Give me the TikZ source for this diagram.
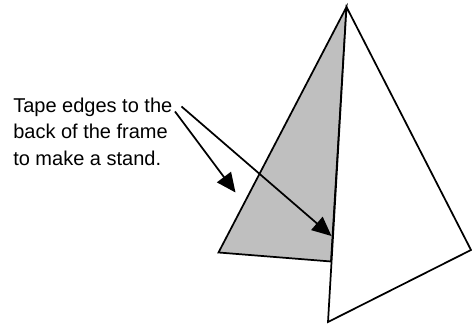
\documentclass[tikz,border=0pt]{standalone}
\usepackage{fontspec}
\setmainfont{Liberation Sans}
\usetikzlibrary{arrows.meta,positioning}

\begin{document}
\begin{tikzpicture}[
      x=0.75pt,
      y=-0.75pt,
      >={Triangle[length=14.5pt,width=13pt]},
      frame/.style={draw, line width=1.3pt, line join=miter},
      pointer/.style={->, line width=1.3pt},
      note/.style={align=left, inner sep=0pt, anchor=north west,
        font=\fontsize{15pt}{20pt}\selectfont, text=black}
    ]
    \useasboundingbox (0,0) rectangle (472,324);
    \coordinate (apex) at (346.5,7);
    \coordinate (right) at (471,250);
    \coordinate (bottom) at (328,322);
    \coordinate (backleft) at (218.5,252.5);
    \coordinate (backright) at (331,261.5);
    \coordinate (lefttip) at (235.5,192.5);
    \coordinate (righttip) at (331.5,236);

    \path[frame, fill=black!25] (apex) -- (backleft) -- (backright) -- cycle;
    \path[frame, fill=white] (apex) -- (right) -- (bottom) -- cycle;

    \node[note] (label) at (13,97.5) {Tape edges to the\\back of the frame\\to make a stand.};
    \coordinate (leftstart) at (175,111.5);
    \coordinate (rightstart) at (181.5,106.5);

    \draw[pointer] (leftstart) -- (lefttip);
    \draw[pointer] (rightstart) -- (righttip);
  \end{tikzpicture}
\end{document}
